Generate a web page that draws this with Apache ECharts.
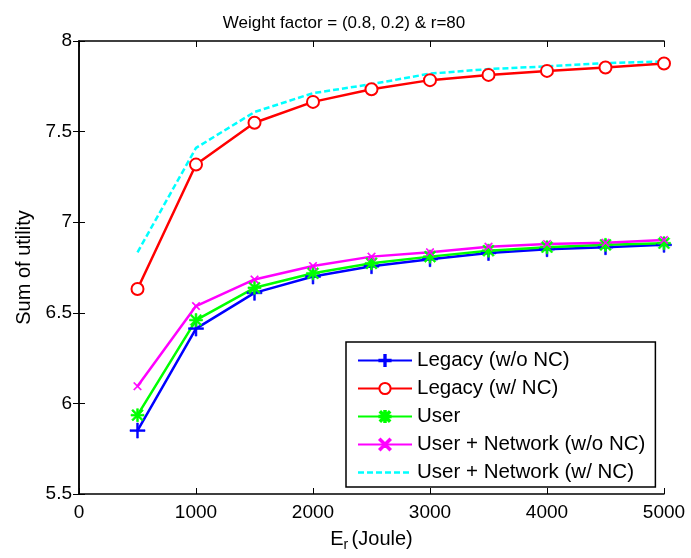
<!DOCTYPE html>
<html>
<head>
<meta charset="utf-8">
<script src="https://cdn.jsdelivr.net/npm/echarts@6/dist/echarts.min.js"></script>
<style>
html, body { margin: 0; padding: 0; background: #fff; }
#main { width: 691px; height: 558px; }
</style>
</head>
<body>
<div id="main"></div>
<script>
var energy = [500, 1000, 1500, 2000, 2500, 3000, 3500, 4000, 4500, 5000];
var legacyNoNC = [5.85, 6.413, 6.61, 6.70, 6.757, 6.796, 6.83, 6.851, 6.862, 6.875];
var legacyNC = [6.631, 7.318, 7.549, 7.664, 7.734, 7.784, 7.813, 7.835, 7.854, 7.876];
var user = [5.935, 6.46, 6.638, 6.718, 6.773, 6.81, 6.843, 6.862, 6.875, 6.884];
var userNetNoNC = [6.095, 6.537, 6.684, 6.758, 6.81, 6.834, 6.865, 6.88, 6.887, 6.902];
var userNetNC = [6.834, 7.41, 7.608, 7.712, 7.762, 7.82, 7.845, 7.86, 7.878, 7.887];
var names = ['Legacy (w/o NC)', 'Legacy (w/ NC)', 'User', 'User + Network (w/o NC)', 'User + Network (w/ NC)'];

var font = "'Liberation Sans', Arial, Helvetica, sans-serif";

// marker shapes (filled strokes)
var plusPath = 'path://M0,4.4H10V5.6H0Z M4.4,0H5.6V10H4.4Z';
var crossPath = 'path://M0,1L1,0L10,9L9,10Z M9,0L10,1L1,10L0,9Z';
var starPath = 'path://M0,4.3H10V5.7H0Z M4.3,0H5.7V10H4.3Z M0.5,1.5L1.5,0.5L9.5,8.5L8.5,9.5Z M8.5,0.5L9.5,1.5L1.5,9.5L0.5,8.5Z';
// dashed legend sample for the marker-less series (54 x 14 box)
var dashIcon = 'path://M0,0M0,5.8H6V8.2H0Z M9,5.8H15V8.2H9Z M18,5.8H24V8.2H18Z M27,5.8H33V8.2H27Z M36,5.8H42V8.2H36Z M45,5.8H51V8.2H45Z M54,14';

function pairs(ys) {
    return energy.map(function (x, i) { return [x, ys[i]]; });
}

var myChart = echarts.init(document.getElementById('main'));

function mk(name, ys, color, symbol, size, dashed) {
    return {
        name: name,
        type: 'line',
        data: pairs(ys),
        symbol: symbol,
        symbolSize: size,
        showSymbol: symbol !== 'none',
        animation: false,
        lineStyle: { color: color, width: 2.5, type: dashed ? [6, 3] : 'solid' },
        itemStyle: symbol === 'emptyCircle'
            ? { color: color, borderWidth: 2.5 }
            : { color: color, borderColor: color, borderWidth: 0.6 },
        emphasis: { disabled: true }
    };
}

var option = {
    backgroundColor: '#fff',
    animation: false,
    title: {
        text: 'Weight factor = (0.8, 0.2) & r=80',
        left: 339,
        textAlign: 'center',
        top: 10,
        textStyle: { fontFamily: font, fontSize: 17, fontWeight: 'normal', color: '#000' }
    },
    grid: { left: 79, right: 27, top: 41, bottom: 64 },
    legend: {
        orient: 'vertical',
        left: 346,
        top: 342,
        padding: [8, 10, 4, 11],
        itemWidth: 54,
        itemHeight: 14,
        itemGap: 7,
        borderColor: '#000',
        borderWidth: 1.5,
        backgroundColor: '#fff',
        data: [names[0], names[1], names[2], names[3], {
            name: names[4],
            icon: dashIcon,
            itemStyle: { color: '#00ffff', borderWidth: 0 },
            lineStyle: { width: 0 }
        }],
        textStyle: { fontFamily: font, fontSize: 20.5, color: '#000' }
    },
    xAxis: [{
        type: 'value',
        min: 0, max: 5000, interval: 1000,
        name: '{e|E}{r|r} {e|(Joule)}',
        nameLocation: 'middle',
        nameGap: 32,
        nameTextStyle: {
            rich: {
                e: { fontFamily: font, fontSize: 20, color: '#000' },
                r: { fontFamily: font, fontSize: 14, color: '#000', verticalAlign: 'bottom', padding: [12, 0, 0, 0] }
            }
        },
        axisLine: { lineStyle: { color: '#000', width: 1.5 } },
        axisTick: { inside: true, length: 6, lineStyle: { color: '#000' } },
        axisLabel: { fontFamily: font, fontSize: 19, color: '#000', margin: 9, formatter: function (v) { return String(v); } },
        splitLine: { show: false }
    }, {
        type: 'value', position: 'top',
        min: 0, max: 5000, interval: 1000,
        axisLine: { lineStyle: { color: '#000', width: 1.5 } },
        axisTick: { inside: true, length: 6, lineStyle: { color: '#000' } },
        axisLabel: { show: false },
        splitLine: { show: false }
    }],
    yAxis: [{
        type: 'value',
        min: 5.5, max: 8, interval: 0.5,
        name: 'Sum of utility',
        nameLocation: 'middle',
        nameGap: 45,
        nameTextStyle: { fontFamily: font, fontSize: 20, color: '#000' },
        axisLine: { show: true, lineStyle: { color: '#000', width: 1.5 } },
        axisTick: { show: true, inside: true, length: 6, lineStyle: { color: '#000' } },
        axisLabel: { fontFamily: font, fontSize: 19, color: '#000', margin: 7 },
        splitLine: { show: false }
    }, {
        type: 'value', position: 'right',
        min: 5.5, max: 8, interval: 0.5,
        axisLine: { show: true, lineStyle: { color: '#000', width: 1.5 } },
        axisTick: { show: true, inside: true, length: 6, lineStyle: { color: '#000' } },
        axisLabel: { show: false },
        splitLine: { show: false }
    }],
    series: [
        mk(names[0], legacyNoNC, '#0000ff', plusPath, 15, false),
        mk(names[1], legacyNC, '#ff0000', 'emptyCircle', 12, false),
        mk(names[2], user, '#00ff00', starPath, 13, false),
        mk(names[3], userNetNoNC, '#ff00ff', crossPath, 8, false),
        mk(names[4], userNetNC, '#00ffff', 'none', 0, true)
    ]
};

myChart.setOption(option);
</script>
</body>
</html>
